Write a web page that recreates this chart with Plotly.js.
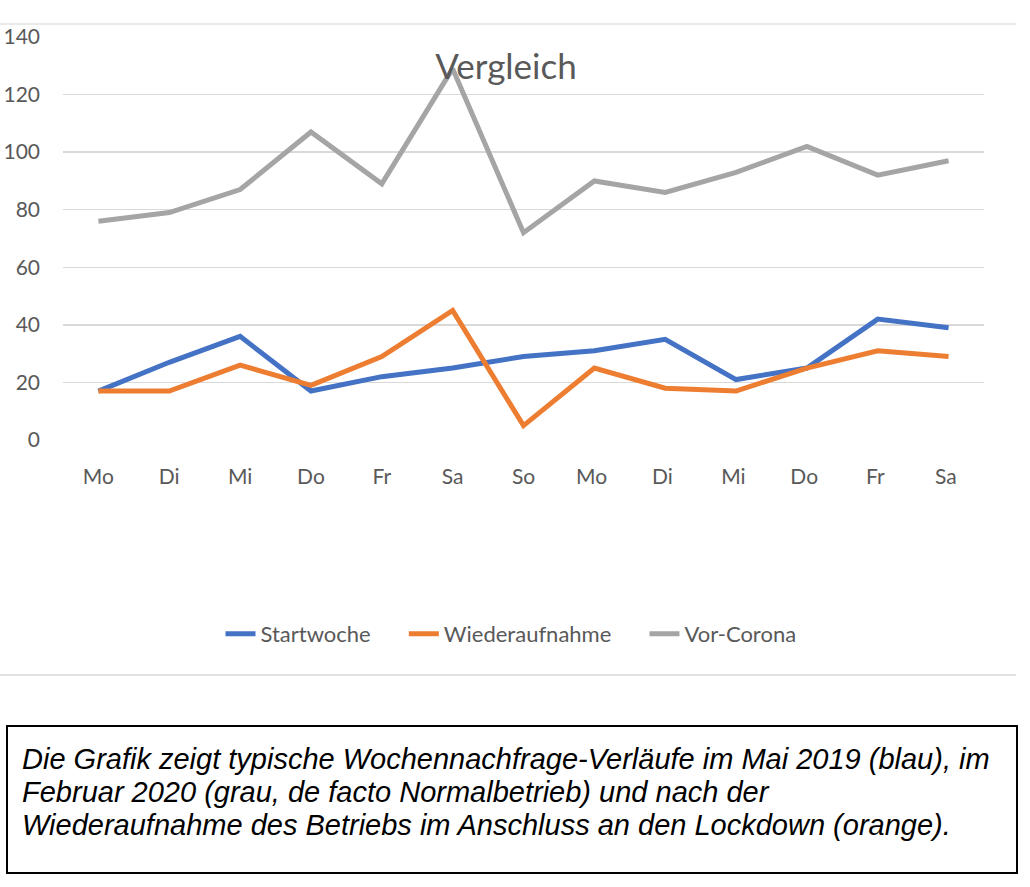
<!DOCTYPE html>
<html>
<head>
<meta charset="utf-8">
<script src="https://cdn.plot.ly/plotly-3.0.1.min.js"></script>
<style>
  html, body { margin: 0; padding: 0; background: #fff; }
  #chart { width: 1030px; height: 887px; }
</style>
</head>
<body>
<div id="chart"></div>
<script>
var days = ['Mo', 'Di', 'Mi', 'Do', 'Fr', 'Sa', 'So', 'Mo ', 'Di ', 'Mi ', 'Do ', 'Fr ', 'Sa '];
var startwoche = [17, 27, 36, 17, 22, 25, 29, 31, 35, 21, 25, 42, 39];
var wiederaufnahme = [17, 17, 26, 19, 29, 45, 5, 25, 18, 17, 25, 31, 29];
var vorCorona = [76, 79, 87, 107, 89, 129, 72, 90, 86, 93, 102, 92, 97];
var yTicks = [0, 20, 40, 60, 80, 100, 120, 140];

var captionLines = [
  'Die Grafik zeigt typische Wochennachfrage-Verläufe im Mai 2019 (blau), im',
  'Februar 2020 (grau, de facto Normalbetrieb) und nach der',
  'Wiederaufnahme des Betriebs im Anschluss an den Lockdown (orange).'
];

// plot area: x 63..984 px, y 37..440 px
function px(x) { return (x - 63) / 921; }
function py(y) { return (440 - y) / 403; }

var pad = '\u00a0\u00a0\u00a0\u00a0\u00a0';

function trace(name, vals, color) {
  return {
    x: days, y: vals, name: name + pad, type: 'scatter', mode: 'lines',
    line: {color: color, width: 5}
  };
}

var data = [
  trace('Startwoche', startwoche, '#4472C4'),
  trace('Wiederaufnahme', wiederaufnahme, '#ED7D31'),
  trace('Vor-Corona', vorCorona, '#A5A5A5')
];

var captionNotes = captionLines.map(function (line, i) {
  return {
    text: '<i>' + line + '</i>', xref: 'paper', yref: 'paper',
    x: px(20), y: py(759 + i * 33), xanchor: 'left', yanchor: 'middle',
    align: 'left', showarrow: false,
    font: {family: '"Liberation Sans", Arial, sans-serif', size: 29, color: '#000000'}
  };
});

var layout = {
  width: 1030,
  height: 887,
  margin: {l: 63, r: 46, t: 37, b: 447},
  paper_bgcolor: '#ffffff',
  plot_bgcolor: '#ffffff',
  font: {family: 'Lato, "Open Sans", sans-serif', color: '#595959', size: 21},
  title: {
    text: 'Vergleich',
    font: {family: 'Lato, "Open Sans", sans-serif', size: 35, color: '#595959'},
    xref: 'paper', yref: 'paper', x: px(506), y: py(67),
    xanchor: 'center', yanchor: 'middle'
  },
  showlegend: true,
  legend: {
    orientation: 'h', xref: 'paper', yref: 'paper',
    x: px(525), y: py(634), xanchor: 'center', yanchor: 'middle',
    font: {size: 22, color: '#595959'}
  },
  xaxis: {
    type: 'category',
    range: [-0.5, 12.5],
    showgrid: false,
    showline: false,
    zeroline: false,
    ticks: '',
    ticklabelstandoff: 22,
    fixedrange: true
  },
  yaxis: {
    range: [0, 140],
    tickvals: yTicks,
    ticktext: yTicks.map(String),
    gridcolor: '#d9d9d9',
    gridwidth: 1.5,
    zeroline: false,
    showline: false,
    ticks: '',
    ticklabelstandoff: 22,
    fixedrange: true
  },
  shapes: [
    {type: 'line', xref: 'paper', yref: 'paper', x0: px(0), x1: px(1016), y0: py(24), y1: py(24),
      line: {color: '#e3e3e3', width: 1.5}},
    {type: 'line', xref: 'paper', yref: 'paper', x0: px(0), x1: px(1016), y0: py(675), y1: py(675),
      line: {color: '#d9d9d9', width: 1.5}},
    {type: 'rect', xref: 'paper', yref: 'paper', x0: px(7), x1: px(1017), y0: py(726), y1: py(873),
      line: {color: '#000000', width: 2}, fillcolor: 'rgba(0,0,0,0)'}
  ],
  annotations: captionNotes
};

Plotly.newPlot('chart', data, layout, {displayModeBar: false, staticPlot: true});
</script>
</body>
</html>
